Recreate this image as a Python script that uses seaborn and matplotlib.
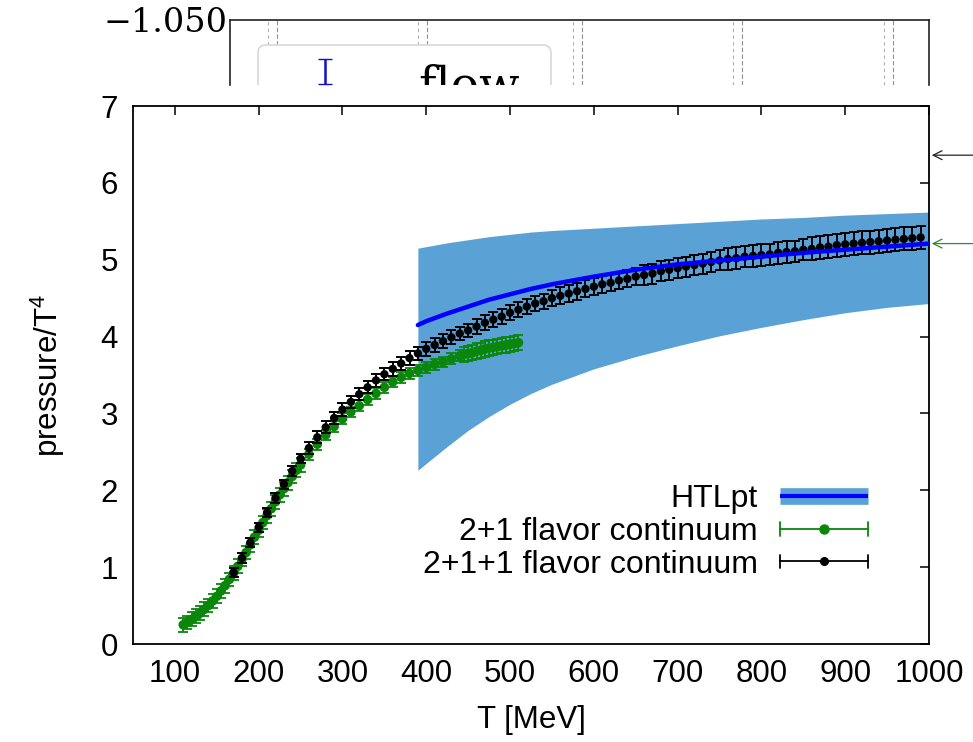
import numpy as np
import pandas as pd
import matplotlib
matplotlib.use("Agg")
import matplotlib.pyplot as plt
import seaborn as sns
from matplotlib.lines import Line2D
from matplotlib.legend_handler import HandlerBase
from matplotlib.patches import FancyBboxPatch

# 2+1 flavor continuum
t_21 = [110, 115, 120, 125, 130, 135, 140, 145, 150, 155, 160, 165, 170, 175, 180,
        185, 190, 195, 200, 205, 210, 215, 220, 225, 230, 235, 240, 245, 250,
        260, 270, 280, 290, 300, 310, 320, 330, 340, 350, 360, 370, 380, 390, 400,
        410, 420, 430, 440,
        445, 450, 455, 460, 465, 470, 475, 480, 485, 490, 495, 500, 505, 510]
p_21 = [0.25, 0.28, 0.32, 0.36, 0.40, 0.45, 0.50, 0.56, 0.62, 0.69, 0.76, 0.84, 0.92, 1.01, 1.10,
        1.19, 1.29, 1.39, 1.48, 1.58, 1.67, 1.76, 1.85, 1.94, 2.02, 2.10, 2.18, 2.26, 2.33,
        2.47, 2.60, 2.72, 2.83, 2.93, 3.02, 3.10, 3.18, 3.26, 3.34, 3.41, 3.47, 3.52, 3.56, 3.60,
        3.64, 3.67, 3.71, 3.75,
        3.77, 3.78, 3.79, 3.81, 3.82, 3.84, 3.85, 3.86, 3.87, 3.88, 3.89, 3.90, 3.91, 3.92]
e_21 = [0.09, 0.09, 0.09, 0.09, 0.09, 0.09, 0.09, 0.09, 0.09, 0.09, 0.09, 0.09, 0.09, 0.09, 0.09,
        0.09, 0.09, 0.09, 0.09, 0.09, 0.09, 0.09, 0.09, 0.09, 0.09, 0.09, 0.09, 0.09, 0.09,
        0.07, 0.07, 0.07, 0.07, 0.07, 0.07, 0.07, 0.07, 0.07, 0.07, 0.07, 0.07, 0.07, 0.07, 0.07,
        0.07, 0.07, 0.07, 0.07,
        0.10, 0.10, 0.10, 0.10, 0.10, 0.10, 0.10, 0.10, 0.10, 0.10, 0.10, 0.10, 0.10, 0.10]

# 2+1+1 flavor continuum
t_211 = [170, 180, 190, 200, 210, 220, 230, 240, 250, 260, 270, 280, 290, 300,
         310, 320, 330, 340, 350, 360, 370, 380, 390, 400, 410, 420, 430, 440,
         450, 460, 470, 480, 490, 500, 510, 520, 530, 540, 550, 560, 570, 580,
         590, 600, 610, 620, 630, 640, 650, 660, 670, 680, 690, 700, 710, 720,
         730, 740, 750, 760, 770, 780, 790, 800, 810, 820, 830, 840, 850, 860,
         870, 880, 890, 900, 910, 920, 930, 940, 950, 960, 970, 980, 990]
p_211 = [0.93, 1.12, 1.32, 1.52, 1.71, 1.90, 2.08, 2.25, 2.41, 2.55, 2.69, 2.82, 2.94, 3.05,
         3.15, 3.25, 3.34, 3.43, 3.51, 3.58, 3.65, 3.72, 3.78, 3.84, 3.89, 3.94, 3.99, 4.04,
         4.08, 4.13, 4.18, 4.22, 4.26, 4.31, 4.35, 4.39, 4.43, 4.46, 4.50, 4.53, 4.56, 4.59,
         4.62, 4.65, 4.68, 4.70, 4.73, 4.75, 4.78, 4.80, 4.82, 4.85, 4.87, 4.89, 4.91, 4.93,
         4.95, 4.97, 4.99, 5.01, 5.02, 5.04, 5.05, 5.06, 5.07, 5.09, 5.10, 5.11, 5.13, 5.14,
         5.16, 5.17, 5.19, 5.20, 5.21, 5.22, 5.23, 5.24, 5.25, 5.26, 5.27, 5.28, 5.29]
e_211 = [0.06, 0.06, 0.06, 0.06, 0.06, 0.06, 0.06, 0.06, 0.06,
         0.08, 0.08, 0.08, 0.08, 0.08, 0.08, 0.08, 0.08, 0.08, 0.08,
         0.09, 0.09, 0.09, 0.09, 0.09, 0.09, 0.09, 0.09, 0.09, 0.09,
         0.10, 0.10, 0.10, 0.10, 0.10, 0.10, 0.10, 0.10, 0.10, 0.10,
         0.11, 0.11, 0.11, 0.11, 0.11, 0.11, 0.11, 0.11, 0.11, 0.11,
         0.13, 0.13, 0.13, 0.13, 0.13, 0.13, 0.13, 0.13, 0.13, 0.13,
         0.14, 0.14, 0.14, 0.14, 0.14, 0.14, 0.14, 0.14, 0.14, 0.14,
         0.15, 0.15, 0.15, 0.15, 0.15, 0.15, 0.15, 0.15, 0.15, 0.15, 0.15, 0.15, 0.15, 0.15]

# HTLpt band
t_htl = [390, 400, 425, 450, 475, 500, 525, 550, 600, 650, 700, 750, 800, 850, 900, 950, 1000]
htl_hi = [5.15, 5.17, 5.22, 5.26, 5.30, 5.33, 5.36, 5.38, 5.41, 5.44, 5.47, 5.50, 5.53, 5.55, 5.58, 5.60, 5.62]
htl_mid = [4.15, 4.20, 4.30, 4.39, 4.48, 4.55, 4.62, 4.68, 4.78, 4.87, 4.94, 4.99, 5.04, 5.09, 5.13, 5.17, 5.21]
htl_lo = [2.26, 2.35, 2.57, 2.78, 2.96, 3.12, 3.26, 3.38, 3.58, 3.74, 3.88, 4.01, 4.12, 4.22, 4.31, 4.38, 4.43]

# Stefan-Boltzmann limits (arrows on the right)
sb_levels = [6.36, 5.21]
sb_colors = ["#222222", "#2e8b2e"]

x_ticks = [100, 200, 300, 400, 500, 600, 700, 800, 900, 1000]
y_ticks = [0, 1, 2, 3, 4, 5, 6, 7]

GREEN = "#0a870a"
BAND = "#5aa2d6"

sns.set_style("white")
plt.rcParams["font.family"] = ["Liberation Sans", "DejaVu Sans"]
plt.rcParams["mathtext.fontset"] = "custom"
plt.rcParams["mathtext.rm"] = "Liberation Sans"
plt.rcParams["mathtext.default"] = "regular"
plt.rcParams["text.color"] = "black"
plt.rcParams["axes.labelcolor"] = "black"
plt.rcParams["xtick.color"] = "black"
plt.rcParams["ytick.color"] = "black"


class HErrHandler(HandlerBase):
    # gnuplot-like legend sample: horizontal bar with end caps and a dot
    def __init__(self, color, ms, **kw):
        super().__init__(**kw)
        self.color = color
        self.ms = ms

    def create_artists(self, legend, orig_handle, xdescent, ydescent,
                       width, height, fontsize, trans):
        y = height / 2 - ydescent
        x0 = -xdescent
        x1 = x0 + width
        cap = height * 0.3
        arts = [
            Line2D([x0, x1], [y, y], color=self.color, lw=1.3),
            Line2D([x0, x0], [y - cap, y + cap], color=self.color, lw=1.3),
            Line2D([x1, x1], [y - cap, y + cap], color=self.color, lw=1.3),
            Line2D([(x0 + x1) / 2], [y], marker="o", ms=self.ms, color=self.color, ls="none"),
        ]
        for a in arts:
            a.set_transform(trans)
        return arts


df21 = pd.DataFrame({"T": t_21, "p": p_21, "err": e_21})
df211 = pd.DataFrame({"T": t_211, "p": p_211, "err": e_211})
dfhtl = pd.DataFrame({"T": t_htl, "hi": htl_hi, "mid": htl_mid, "lo": htl_lo})

fig = plt.figure(figsize=(9.73, 7.42), dpi=100)

# leftover strip of another figure at the top of the picture
top = fig.add_axes([230 / 973, 1 - 85 / 742, (929 - 230) / 973, 65 / 742])
top.set_xlim(230, 929)
top.set_ylim(85, 20)
top.spines["bottom"].set_visible(False)
for s in ["top", "left", "right"]:
    top.spines[s].set_linewidth(1.2)
    top.spines[s].set_color("#222222")
top.set_xticks([])
top.set_yticks([20])
top.set_yticklabels(["\u22121.050"], fontfamily="DejaVu Serif", fontsize=24)
top.tick_params(axis="y", length=0, pad=2)
for xd in [268, 418, 573, 733, 884]:
    top.axvline(xd, color="#b0b0b0", ls=(0, (3, 3)), lw=0.8)
    top.axvline(xd + 9, color="#909090", ls=(0, (4, 2)), lw=0.8)
top.add_patch(FancyBboxPatch((258, 45), 293, 90, boxstyle="round,pad=0,rounding_size=8",
                             ec="#d8d8d8", fc="white", lw=1.2, zorder=3))
top.errorbar([325], [71], yerr=[12.5], fmt="none", ecolor="#1010c8", capsize=5, lw=1.8, zorder=4)
t_flow = top.text(418, 99, "flow", fontsize=34, fontfamily="DejaVu Serif", va="baseline", zorder=4)
t_flow.set_clip_box(top.bbox)
t_flow.set_clip_on(True)

# main chart
ax = fig.add_axes([133 / 973, 1 - 644 / 742, (929 - 133) / 973, (644 - 106) / 742])

ax.fill_between(dfhtl["T"], dfhtl["lo"], dfhtl["hi"], color=BAND, lw=0, zorder=1)

ax.errorbar(df21["T"], df21["p"], yerr=df21["err"], fmt="none", ecolor=GREEN,
            elinewidth=1.3, capsize=3.6, capthick=1.3, zorder=3)
sns.scatterplot(data=df21, x="T", y="p", color=GREEN, s=48, edgecolor="none", ax=ax, zorder=3)

ax.errorbar(df211["T"], df211["p"], yerr=df211["err"], fmt="none", ecolor="black",
            elinewidth=1.4, capsize=3.4, capthick=1.4, zorder=4)
sns.scatterplot(data=df211, x="T", y="p", color="black", s=36, edgecolor="none", ax=ax, zorder=4)

sns.lineplot(data=dfhtl, x="T", y="mid", color="#0000ff", lw=3.2, ax=ax, zorder=5)

ax.set_xlim(50, 1000)
ax.set_ylim(0, 7)
ax.set_xticks(x_ticks)
ax.set_yticks(y_ticks)
ax.tick_params(direction="in", length=6.5, width=1.1, top=True, right=True,
               labelsize=22.5, colors="black", pad=11)
for s in ax.spines.values():
    s.set_linewidth(1.3)
    s.set_color("black")
ax.set_xlabel("T [MeV]", fontsize=22.5, labelpad=11)
ax.set_ylabel("pressure/T$^4$", fontsize=22.5, labelpad=24)

for lvl, col in zip(sb_levels, sb_colors):
    ax.annotate("", xy=(1000, lvl), xycoords="data",
                xytext=(1.06, lvl), textcoords=("axes fraction", "data"),
                arrowprops=dict(arrowstyle="->", color=col, lw=0.9, mutation_scale=16),
                annotation_clip=False)

h_htl = (Line2D([], [], color=BAND, lw=12, solid_capstyle="butt"),
         Line2D([], [], color="#0000ff", lw=3, solid_capstyle="butt"))
h_21 = Line2D([], [], color=GREEN)
h_211 = Line2D([], [], color="black")
ax.legend([h_htl, h_21, h_211],
          ["HTLpt", "2+1 flavor continuum", "2+1+1 flavor continuum"],
          handler_map={h_21: HErrHandler(GREEN, 6.5), h_211: HErrHandler("black", 5.5)},
          loc="lower right", bbox_to_anchor=(0.9434, 0.09), frameon=False,
          markerfirst=False, fontsize=23, borderpad=0, handlelength=2.75,
          handletextpad=0.7, labelspacing=0.08)

fig.savefig("out.png", dpi=100)
